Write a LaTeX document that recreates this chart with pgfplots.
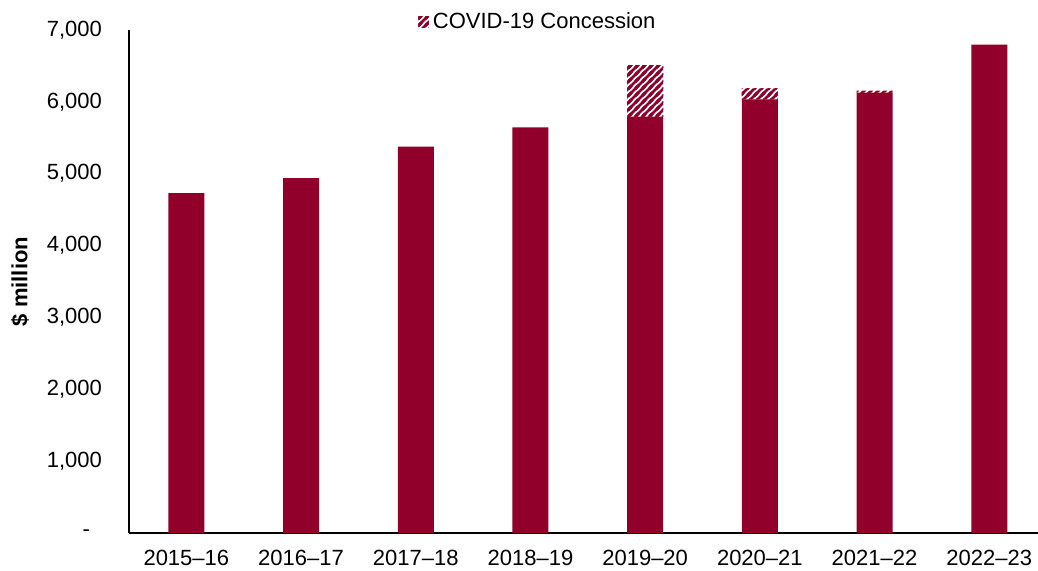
\documentclass[border=0pt]{standalone}
\usepackage{pgfplots}
\pgfplotsset{compat=1.18}
\usepackage{fontspec}
\setmainfont{Liberation Sans}
\usetikzlibrary{patterns}

\definecolor{bar}{RGB}{145,0,43}

% thick diagonal stripes for the concession part
\pgfdeclarepatternformonly{thickne}{\pgfqpoint{-1pt}{-1pt}}{\pgfqpoint{4.5pt}{4.5pt}}{\pgfqpoint{3.5pt}{3.5pt}}{%
  \pgfsetlinewidth{1.25pt}%
  \pgfpathmoveto{\pgfqpoint{-1pt}{-1pt}}\pgfpathlineto{\pgfqpoint{4.5pt}{4.5pt}}%
  \pgfpathmoveto{\pgfqpoint{-1pt}{2.5pt}}\pgfpathlineto{\pgfqpoint{1pt}{4.5pt}}%
  \pgfpathmoveto{\pgfqpoint{2.5pt}{-1pt}}\pgfpathlineto{\pgfqpoint{4.5pt}{1pt}}%
  \pgfusepath{stroke}}

\begin{document}
\begin{tikzpicture}
\begin{axis}[
  scale only axis,
  width=454.5pt, height=251.5pt,
  ybar stacked,
  bar width=18pt,
  xmin=-0.5, xmax=7.425,
  ymin=0, ymax=7000,
  axis x line*=bottom, axis y line*=left,
  axis line style={line width=1pt, black},
  major tick length=0pt,
  xtick={0,...,7},
  xticklabels={2015--16,2016--17,2017--18,2018--19,2019--20,2020--21,2021--22,2022--23},
  xticklabel style={yshift=-5pt},
  ytick={0,1000,...,7000},
  yticklabels={{-\hspace*{6pt}},{1,000},{2,000},{3,000},{4,000},{5,000},{6,000},{7,000}},
  yticklabel style={xshift=-10pt},
  tick label style={font=\fontsize{11pt}{13pt}\selectfont},
  ylabel={\textbf{\$ million}},
  ylabel style={at={(axis description cs:-0.12,0.5)}, anchor=center, font=\fontsize{11pt}{13pt}\selectfont},
  legend style={draw=none, fill=none, at={(axis description cs:0.451,1.016)}, anchor=center,
    font=\fontsize{11pt}{13pt}\selectfont, inner sep=0pt},
  legend image code/.code={\fill[pattern=thickne, pattern color=bar] (0pt,-2.6pt) rectangle (5.2pt,2.6pt);},
]
% underlying revenue
\addplot[fill=bar, draw=none, forget plot] coordinates
  {(0,4731) (1,4940) (2,5376) (3,5646) (4,5793) (5,6035) (6,6127) (7,6795)};
% concession on top
\addplot[pattern=thickne, pattern color=bar, draw=none] coordinates
  {(0,0) (1,0) (2,0) (3,0) (4,720) (5,154) (6,28) (7,0)};
\addlegendentry{COVID-19 Concession}
\end{axis}
\pgfresetboundingbox
\path[use as bounding box] (-64.5pt,-18.5pt) rectangle (454.5pt,266.5pt);
\end{tikzpicture}
\end{document}
